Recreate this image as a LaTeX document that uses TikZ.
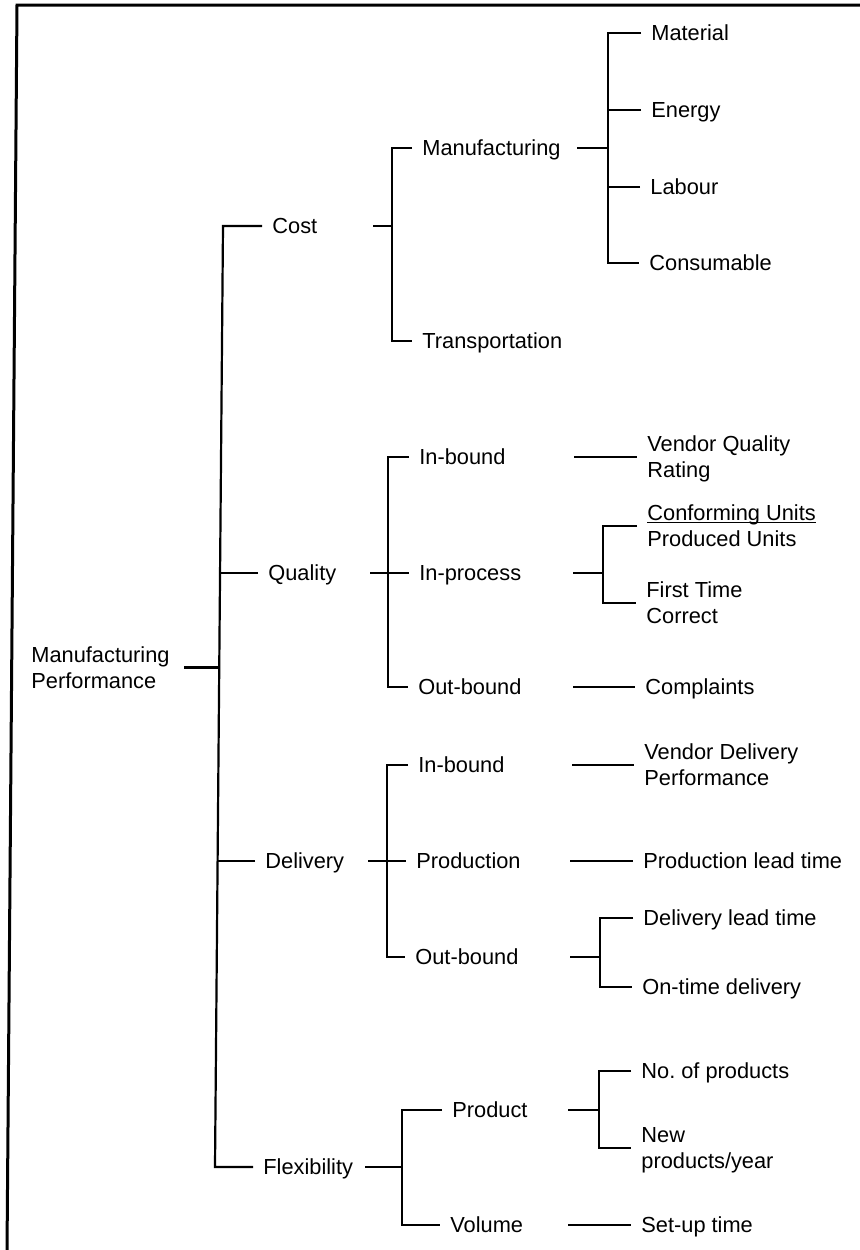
\documentclass[tikz,border=0pt]{standalone}
\usepackage{fontspec}
\setmainfont{Liberation Sans}
\frenchspacing
% two stacked lines, first baseline on the node baseline
\newcommand{\stackpair}[2]{\begin{tabular}[t]{@{}l@{}}#1\\#2\end{tabular}}
% underline sitting just below the baseline
\newcommand{\ulbase}[1]{\setbox0=\hbox{#1}\rlap{\rule[-1.3pt]{\wd0}{0.6pt}}\box0}
\begin{document}
\begin{tikzpicture}[x=0.5pt,y=-0.5pt,
  lbl/.style={anchor=west, inner xsep=5pt, inner ysep=0pt,
    text height=7.8pt, text depth=0pt,
    font=\fontsize{10.9pt}{13pt}\selectfont},
  lbltwo/.style={lbl, text height=9.1pt, text depth=14.3pt},
  conn/.style={line width=1.1pt},
  frameline/.style={line width=1.5pt}]
\useasboundingbox (0,0) rectangle (859,1250);

% frame
\draw[frameline] (861,5) -- (17,5) -- (7,1252);

% root
\node[lbltwo] (root) at (21,667.5) {\stackpair{Manufacturing}{Performance}};

% first level
\node[lbl] (cost)     at (262,226)  {Cost};
\node[lbl] (quality)  at (258,573)  {Quality};
\node[lbl] (delivery) at (255,861)  {Delivery};
\node[lbl] (flex)     at (253,1167) {Flexibility};

% second level
\node[lbl] (manu)   at (412,148)  {Manufacturing};
\node[lbl] (transp) at (412,341)  {Transportation};
\node[lbl] (qin)    at (409,457)  {In-bound};
\node[lbl] (qproc)  at (409,573)  {In-process};
\node[lbl] (qout)   at (408,687)  {Out-bound};
\node[lbl] (din)    at (408,765)  {In-bound};
\node[lbl] (dprod)  at (406,861)  {Production};
\node[lbl] (dout)   at (405,957)  {Out-bound};
\node[lbl] (prod)   at (442,1110) {Product};
\node[lbl] (vol)    at (440,1225) {Volume};

% third level
\node[lbl] (material) at (641,33)  {Material};
\node[lbl] (energy)   at (641,110) {Energy};
\node[lbl] (labour)   at (640,187) {Labour};
\node[lbl] (consum)   at (639,263) {Consumable};
\node[lbltwo] (vqr)   at (637,457) {\stackpair{Vendor Quality}{Rating}};
\node[lbltwo] (cfu)   at (637,526) {\stackpair{\ulbase{Conforming Units}}{Produced Units}};
\node[lbltwo] (ftc)   at (636,603) {\stackpair{First Time}{Correct}};
\node[lbl] (compl)    at (635,687) {Complaints};
\node[lbltwo] (vdp)   at (634,765) {\stackpair{Vendor Delivery}{Performance}};
\node[lbl] (plt)      at (633,861) {Production lead time};
\node[lbl] (dlt)      at (633,918) {Delivery lead time};
\node[lbl] (otd)      at (632,987) {On-time delivery};
\node[lbl] (nop)      at (631,1071) {No. of products};
\node[lbltwo] (npy)   at (631,1148) {\stackpair{New}{products/year}};
\node[lbl] (sut)      at (631,1225) {Set-up time};

% junction points
\coordinate (ttop) at (223,226);
\coordinate (tbot) at (215,1167);
\coordinate (tq)   at (220,573);
\coordinate (tr)   at (219.2,667.5);
\coordinate (td)   at (217.6,861);
\coordinate (rooto) at (184,667.5);

\coordinate (costo) at (373,226);   \coordinate (costj) at (392,226);
\coordinate (manuo) at (577,148);   \coordinate (manuj) at (608,148);
\coordinate (qo)    at (370,573);   \coordinate (qj)    at (388,573);
\coordinate (qino)  at (574,457);
\coordinate (qpo)   at (573,573);   \coordinate (qpj)   at (603,573);
\coordinate (qoo)   at (573,687);
\coordinate (do)    at (368,861);   \coordinate (dj)    at (387,861);
\coordinate (dino)  at (572,765);
\coordinate (dpo)   at (570,861);
\coordinate (doo)   at (570,957);   \coordinate (doj)   at (600,957);
\coordinate (fo)    at (365,1167);  \coordinate (fj)    at (402,1167);
\coordinate (po)    at (568,1110);  \coordinate (pj)    at (599,1110);
\coordinate (vo)    at (568,1225);

% main trunk
\draw[conn] (rooto) -- (tr);
\draw[conn] (cost.west) -- (ttop) -- (tbot) -- (flex.west);
\draw[conn] (quality.west) -- (tq);
\draw[conn] (delivery.west) -- (td);

% cost
\draw[conn] (costo) -- (costj);
\draw[conn] (manu.west) -| (costj) |- (transp.west);
\draw[conn] (manuo) -- (manuj);
\draw[conn] (material.west) -| (manuj) |- (consum.west);
\draw[conn] (energy.west) -- (energy.west -| manuj);
\draw[conn] (labour.west) -- (labour.west -| manuj);

% quality
\draw[conn] (qo) -- (qproc.west);
\draw[conn] (qin.west) -| (qj) |- (qout.west);
\draw[conn] (qino) -- (vqr.west);
\draw[conn] (qpo) -- (qpj);
\draw[conn] (cfu.west) -| (qpj) |- (ftc.west);
\draw[conn] (qoo) -- (compl.west);

% delivery
\draw[conn] (do) -- (dprod.west);
\draw[conn] (din.west) -| (dj) |- (dout.west);
\draw[conn] (dino) -- (vdp.west);
\draw[conn] (dpo) -- (plt.west);
\draw[conn] (doo) -- (doj);
\draw[conn] (dlt.west) -| (doj) |- (otd.west);

% flexibility
\draw[conn] (fo) -- (fj);
\draw[conn] (prod.west) -| (fj) |- (vol.west);
\draw[conn] (po) -- (pj);
\draw[conn] (nop.west) -| (pj) |- (npy.west);
\draw[conn] (vo) -- (sut.west);
\end{tikzpicture}
\end{document}
